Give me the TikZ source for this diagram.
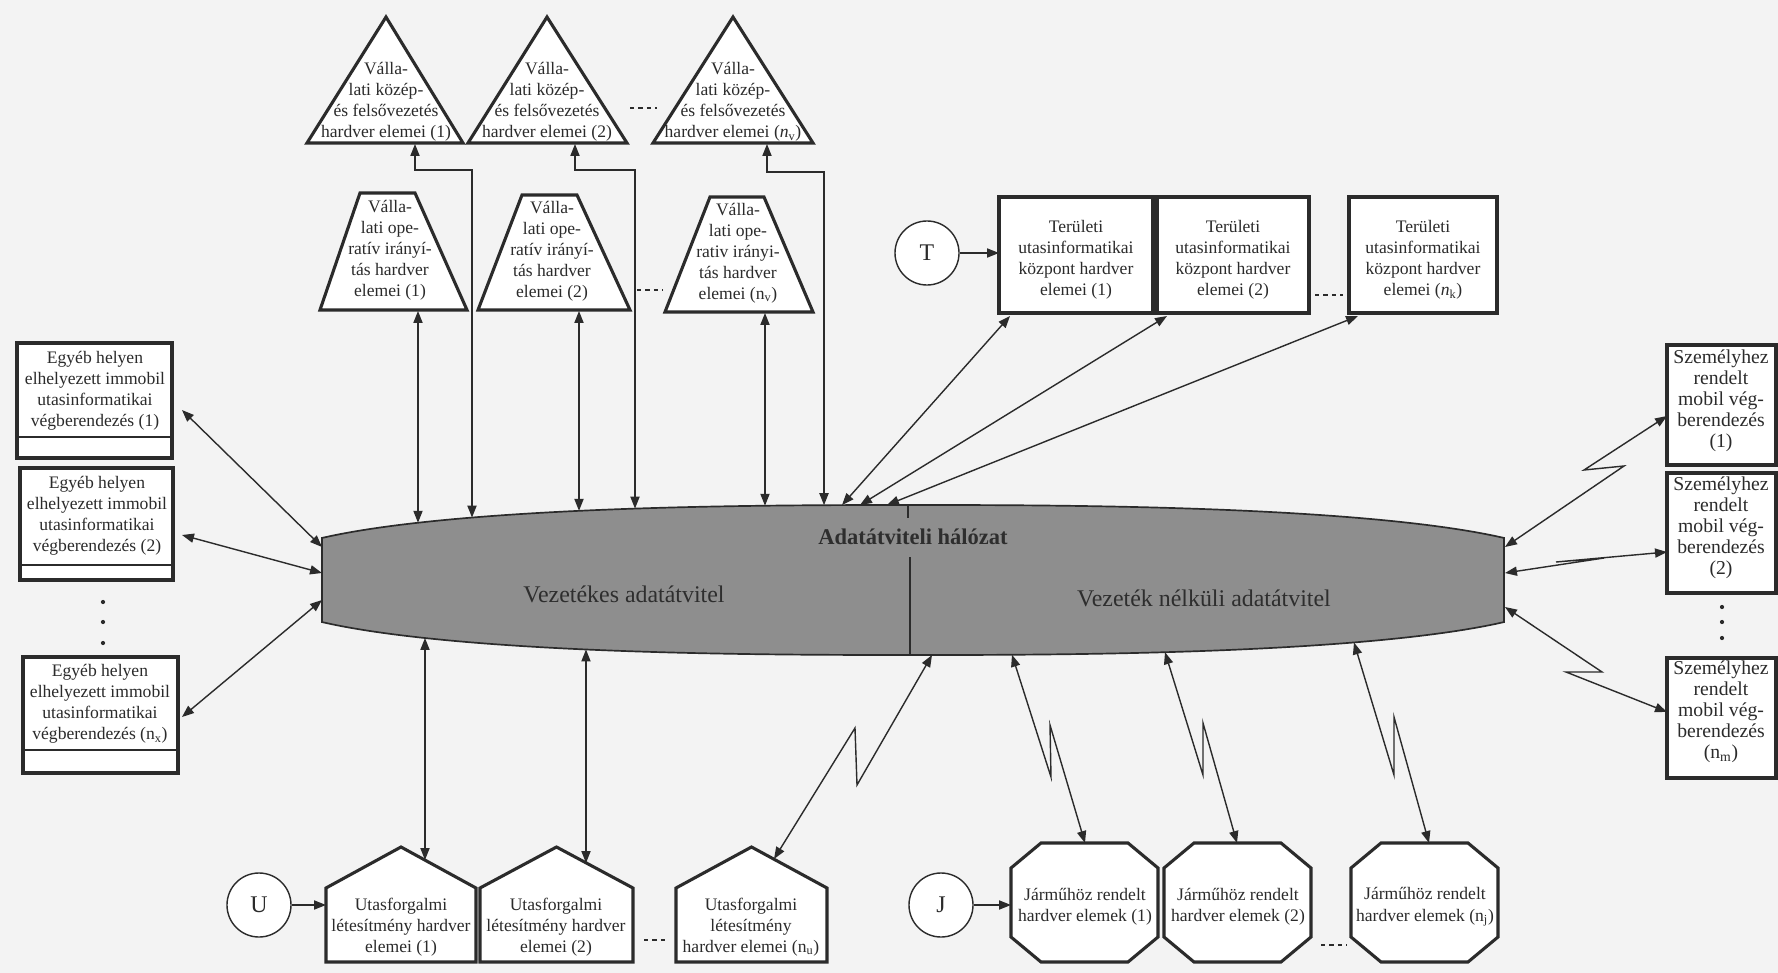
\documentclass[tikz,border=0pt]{standalone}
\usepackage{fontspec}
\setmainfont{Liberation Serif}
\usetikzlibrary{arrows.meta,calc}
\definecolor{ink}{HTML}{2B2B2B}
\definecolor{paper}{HTML}{F3F3F3}
\definecolor{netfill}{HTML}{8E8E8E}
\definecolor{nettext}{HTML}{2E2E2E}
\tikzset{
  shapeline/.style={draw=ink, line width=2.2pt, fill=white, line join=miter},
  divline/.style={draw=ink, line width=0.9pt},
  lbl/.style={align=center, inner sep=0pt, text=ink, font=\fontsize{12.5}{15}\selectfont},
  biglbl/.style={lbl, font=\fontsize{14}{15}\selectfont},
  nettip/.tip={Triangle[length=8.5pt,width=6.5pt]},
  netlink/.style={draw=ink, line width=1pt, nettip-nettip},
  feedarrow/.style={draw=ink, line width=1pt, -nettip},
  gapdash/.style={draw=ink, line width=1.1pt, dash pattern=on 3pt off 3pt},
  srccircle/.style={circle, draw=ink, line width=1pt, fill=white, minimum size=1.6cm, inner sep=0pt, font=\fontsize{17}{17}\selectfont, text=ink},
  dotmark/.style={circle, fill=ink, inner sep=0pt, minimum size=3pt}
}
\newcommand\octabox[1]{% left x of a vehicle unit
  \draw[shapeline] ({#1+30},843) -- ({#1+117},843) -- ({#1+147},868) -- ({#1+147},937)
    -- ({#1+117},962) -- ({#1+30},962) -- (#1,937) -- (#1,868) -- cycle;}
\newcommand\housebox[2]{% left x, right x of a facility unit
  \draw[shapeline] (#1,888) -- ({(#1+#2)/2},847) -- (#2,888) -- (#2,962) -- (#1,962) -- cycle;}
\begin{document}
\begin{tikzpicture}[x=0.025cm, y=-0.025cm,
  declare function={
    netu(\t)=abs(\t-913)/658;
    nettop(\t)=580-75*pow(1-netu(\t)*netu(\t)*sqrt(netu(\t)),0.4);
    netbot(\t)=580+75*pow(1-netu(\t)*netu(\t)*sqrt(netu(\t)),0.4);}]
\useasboundingbox (0,0) rectangle (1778,973);
\fill[paper] (0,0) rectangle (1778,973);

% ---------------- data network: a flattened superellipse cut off at both ends ----------------
\path[fill=netfill, draw=ink, line width=1.2pt]
  plot[domain=322:1504, samples=121] (\x,{nettop(\x)})
  -- plot[domain=1504:322, samples=121] (\x,{netbot(\x)}) -- cycle;
\draw[divline] (910,557) -- (910,{netbot(910)});
\draw[divline] (908,{nettop(908)}) -- (908,518);
\node[text=nettext, font=\fontsize{16}{16}\selectfont\bfseries] (net) at (913,537) {Adatátviteli hálózat};
\node[text=nettext, font=\fontsize{17}{17}\selectfont] (wired) at (624,594) {Vezetékes adatátvitel};
\node[text=nettext, font=\fontsize{17}{17}\selectfont] (wireless) at (1204,598) {Vezeték nélküli adatátvitel};

% ---------------- management (triangles) ----------------
\draw[shapeline] (386,17) -- (463,143) -- (307,143) -- cycle;
\node[lbl] (mgmt1) at (386,102) {Válla-\\lati közép-\\és felsővezetés\\hardver elemei (1)};
\draw[shapeline] (547,17) -- (627,143) -- (468,143) -- cycle;
\node[lbl] (mgmt2) at (547,102) {Válla-\\lati közép-\\és felsővezetés\\hardver elemei (2)};
\draw[shapeline] (733,17) -- (813,143) -- (653,143) -- cycle;
\node[lbl] (mgmt3) at (733,102) {Válla-\\lati közép-\\és felsővezetés\\hardver elemei (\textit{n}\textsubscript{v})};
\draw[gapdash] (630,108) -- (657,108);

% ---------------- operative control (trapezia) ----------------
\draw[shapeline] (360,193) -- (415,193) -- (467,310) -- (320,310) -- cycle;
\node[lbl] (oper1) at (390,250) {Válla-\\lati ope-\\ratív irányí-\\tás hardver\\elemei (1)};
\draw[shapeline] (522,195) -- (577,195) -- (630,310) -- (478,310) -- cycle;
\node[lbl] (oper2) at (552,251) {Válla-\\lati ope-\\ratív irányí-\\tás hardver\\elemei (2)};
\draw[shapeline] (710,197) -- (764,197) -- (813,312) -- (665,312) -- cycle;
\node[lbl] (oper3) at (738,253) {Válla-\\lati ope-\\rativ irányi-\\tás hardver\\elemei (n\textsubscript{v})};
\draw[gapdash] (637,290) -- (663,290);

\coordinate (oper1-s) at (418,311);
\coordinate (oper2-s) at (579,311);
\coordinate (oper3-s) at (765,313);
\coordinate (mgmt1-s) at (415,144);
\coordinate (mgmt2-s) at (575,144);
\coordinate (mgmt3-s) at (767,144);
\coordinate (net-o1) at (418,{nettop(418)});
\coordinate (net-m1) at (472,{nettop(472)});
\coordinate (net-o2) at (579,{nettop(579)});
\coordinate (net-m2) at (635,{nettop(635)});
\coordinate (net-o3) at (765,{nettop(765)});
\coordinate (net-m3) at (824,{nettop(824)});
\draw[netlink] (oper1-s) -- (net-o1);
\draw[netlink] (oper2-s) -- (net-o2);
\draw[netlink] (oper3-s) -- (net-o3);
\draw[netlink] (mgmt1-s) -- (415,170) -| (net-m1);
\draw[netlink] (mgmt2-s) -- (575,170) -| (net-m2);
\draw[netlink] (mgmt3-s) -- (767,172) -| (net-m3);

% ---------------- regional centres ----------------
\node[srccircle] (T) at (927,253) {T};
\draw[shapeline] (999,197) rectangle (1153,313);
\node[lbl] (reg1) at (1076,260) {Területi\\utasinformatikai\\központ hardver\\elemei (1)};
\draw[shapeline] (1157,197) rectangle (1309,313);
\node[lbl] (reg2) at (1233,260) {Területi\\utasinformatikai\\központ hardver\\elemei (2)};
\draw[shapeline] (1349,197) rectangle (1497,313);
\node[lbl] (reg3) at (1423,260) {Területi\\utasinformatikai\\központ hardver\\elemei (\textit{n}\textsubscript{k})};
\draw[gapdash] (1315,295) -- (1343,295);
\coordinate (reg1-w) at (999,253);
\draw[feedarrow] (T) -- (reg1-w);
\coordinate (reg1-sw) at (1010,316);
\coordinate (reg2-sw) at (1167,316);
\coordinate (reg3-sw) at (1358,316);
\coordinate (net-r1) at (842,{nettop(842)});
\coordinate (net-r2) at (860,{nettop(860)});
\coordinate (net-r3) at (887,{nettop(887)});
\draw[netlink] (reg1-sw) -- (net-r1);
\draw[netlink] (reg2-sw) -- (net-r2);
\draw[netlink] (reg3-sw) -- (net-r3);

% ---------------- fixed terminals (left) ----------------
\draw[shapeline] (17,343) rectangle (172,458);
\draw[divline] (17,437) -- (172,437);
\node[lbl] (fix1) at (95,391) {Egyéb helyen\\elhelyezett immobil\\utasinformatikai\\végberendezés (1)};
\draw[shapeline] (20,468) rectangle (173,580);
\draw[divline] (20,565) -- (173,565);
\node[lbl] (fix2) at (97,516) {Egyéb helyen\\elhelyezett immobil\\utasinformatikai\\végberendezés (2)};
\draw[shapeline] (23,657) rectangle (178,773);
\draw[divline] (23,750) -- (178,750);
\node[lbl] (fix3) at (100,704) {Egyéb helyen\\elhelyezett immobil\\utasinformatikai\\végberendezés (n\textsubscript{x})};
\node[dotmark] (fixdot1) at (103,602) {};
\node[dotmark] (fixdot2) at (103,622) {};
\node[dotmark] (fixdot3) at (103,643) {};
\coordinate (fix1-e) at (182,410);
\coordinate (fix2-e) at (182,535);
\coordinate (fix3-e) at (182,717);
\coordinate (net-l1) at (322,547);
\coordinate (net-l2) at (322,573);
\coordinate (net-l3) at (322,600);
\draw[netlink] (fix1-e) -- (net-l1);
\draw[netlink] (fix2-e) -- (net-l2);
\draw[netlink] (fix3-e) -- (net-l3);

% ---------------- personal mobile terminals (right) ----------------
\draw[shapeline] (1667,345) rectangle (1776,465);
\node[biglbl] (mob1) at (1721,401) {Személyhez\\rendelt\\mobil vég-\\berendezés\\(1)};
\draw[shapeline] (1667,473) rectangle (1776,593);
\node[biglbl] (mob2) at (1721,528) {Személyhez\\rendelt\\mobil vég-\\berendezés\\(2)};
\draw[shapeline] (1667,658) rectangle (1776,778);
\node[biglbl] (mob3) at (1721,712) {Személyhez\\rendelt\\mobil vég-\\berendezés\\(n\textsubscript{m})};
\node[dotmark] (mobdot1) at (1722,607) {};
\node[dotmark] (mobdot2) at (1722,622) {};
\node[dotmark] (mobdot3) at (1722,638) {};
\coordinate (net-e1) at (1505,547);
\coordinate (net-e2) at (1505,573);
\coordinate (net-e3) at (1505,607);
\coordinate (mob1-w) at (1667,416);
\coordinate (mob2-w) at (1667,552);
\coordinate (mob3-w) at (1667,712);
\draw[netlink] (net-e1) -- (1624,466) -- (1584,470) -- (mob1-w);
\draw[netlink] (net-e2) -- (1604,558) -- (1556,562) -- (mob2-w);
\draw[netlink] (net-e3) -- (1602,672) -- (1566,672) -- (mob3-w);

% ---------------- passenger facilities (houses) ----------------
\node[srccircle] (U) at (259,905) {U};
\housebox{326}{476}
\node[lbl] (fac1) at (401,927) {Utasforgalmi\\létesítmény hardver\\elemei (1)};
\housebox{480}{633}
\node[lbl] (fac2) at (556,927) {Utasforgalmi\\létesítmény hardver\\elemei (2)};
\housebox{676}{827}
\node[lbl] (fac3) at (751,927) {Utasforgalmi\\létesítmény\\hardver elemei (n\textsubscript{u})};
\draw[gapdash] (644,940) -- (665,940);
\coordinate (fac1-w) at (326,905);
\draw[feedarrow] (U) -- (fac1-w);
\coordinate (fac1-n) at (425,860);
\coordinate (fac2-n) at (586,863);
\coordinate (fac3-n) at (774,859);
\coordinate (net-f1) at (425,{netbot(425)});
\coordinate (net-f2) at (586,{netbot(586)});
\coordinate (net-f3) at (932,{netbot(932)});
\draw[netlink] (net-f1) -- (fac1-n);
\draw[netlink] (net-f2) -- (fac2-n);
\draw[netlink] (net-f3) -- (857,785) -- (855,728) -- (fac3-n);

% ---------------- vehicle units (octagons) ----------------
\node[srccircle] (J) at (941,905) {J};
\octabox{1011}
\node[lbl] (veh1) at (1085,907) {Járműhöz rendelt\\hardver elemek (1)};
\octabox{1164}
\node[lbl] (veh2) at (1238,907) {Járműhöz rendelt\\hardver elemek (2)};
\octabox{1351}
\node[lbl] (veh3) at (1425,907) {Járműhöz rendelt\\hardver elemek (n\textsubscript{j})};
\draw[gapdash] (1321,945) -- (1347,945);
\coordinate (veh1-w) at (1011,905);
\draw[feedarrow] (J) -- (veh1-w);
\coordinate (veh1-n) at (1085,843);
\coordinate (veh2-n) at (1237,843);
\coordinate (veh3-n) at (1429,843);
\coordinate (net-j1) at (1012,{netbot(1012)});
\coordinate (net-j2) at (1165,{netbot(1165)});
\coordinate (net-j3) at (1354,{netbot(1354)});
\draw[netlink] (net-j1) -- (1051,777) -- (1050,725) -- (veh1-n);
\draw[netlink] (net-j2) -- (1203,775) -- (1203,723) -- (veh2-n);
\draw[netlink] (net-j3) -- (1394,775) -- (1394,717) -- (veh3-n);
\end{tikzpicture}
\end{document}
